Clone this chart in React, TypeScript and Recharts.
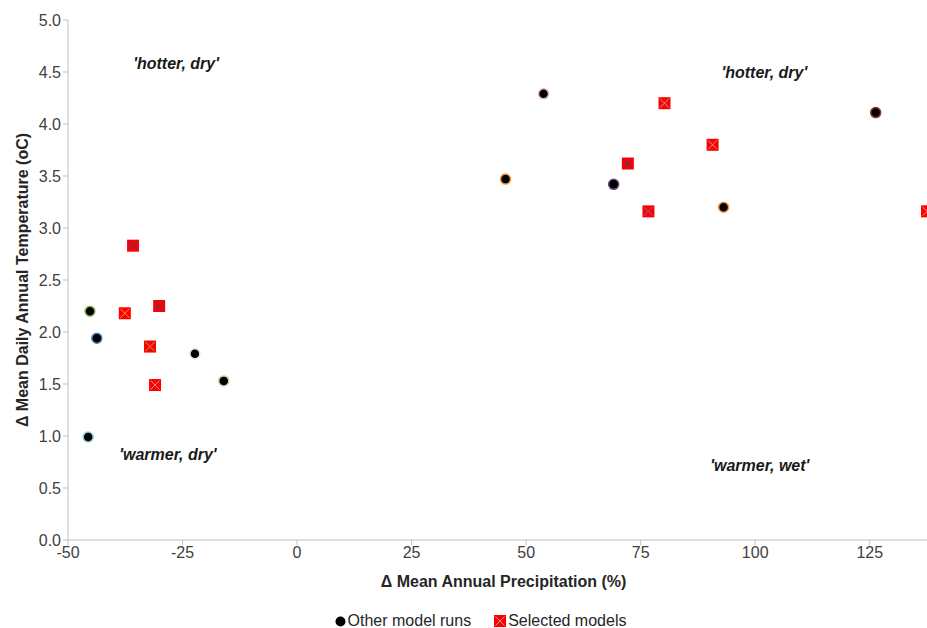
import React from 'react';
import {
  Legend,
  ReferenceDot,
  Scatter,
  ScatterChart,
  XAxis,
  YAxis,
} from 'recharts';

// change in precipitation (%) and temperature (oC) per model run
const otherPrecip = [-45.2, -43.7, -45.6, -22.3, -16.0, 53.8, 45.5, 69.1, 93.1, 126.3];
const otherTemp = [2.2, 1.94, 0.99, 1.79, 1.53, 4.29, 3.47, 3.42, 3.2, 4.11];

const selectedPrecip = [-35.8, -37.6, -30.1, -32.1, -31.0, 80.2, 90.7, 72.2, 76.7, 137.5];
const selectedTemp = [2.83, 2.18, 2.25, 1.86, 1.49, 4.2, 3.8, 3.62, 3.16, 3.16];

const xTicks = [-50, -25, 0, 25, 50, 75, 100, 125];
const yTicks = [0, 0.5, 1, 1.5, 2, 2.5, 3, 3.5, 4, 4.5, 5];

const quadrantLabels = [
  { x: -26.4, y: 4.58, text: "'hotter, dry'" },
  { x: 102, y: 4.5, text: "'hotter, dry'" },
  { x: -28.2, y: 0.82, text: "'warmer, dry'" },
  { x: 101, y: 0.72, text: "'warmer, wet'" },
];

// marker outline / cross colours (styling only)
const otherEdge = ['#9bbb59', '#4f81bd', '#93cddd', '#dbe5f1', '#c3d69b', '#e6b9b8', '#f79646', '#604a7b', '#f79646', '#953735'];
const selectedCross = ['#1f497d', '#f79646', '#1f497d', '#9bbb59', '#d99694', '#a6a6a6', '#d99694', '#1f497d', '#8064a2', '#d99694'];

const otherData = otherPrecip.map((x, i) => ({ x, y: otherTemp[i], i }));
const selectedData = selectedPrecip.map((x, i) => ({ x, y: selectedTemp[i], i }));

const FONT = '"Liberation Sans", Arial, sans-serif';
const AXIS = '#bfbfbf';

const CircleMarker = (props: any) => {
  const { cx, cy, payload } = props;
  return <circle cx={cx} cy={cy} r={5} fill="#000" stroke={otherEdge[payload.i]} strokeWidth={1.5} />;
};

const SquareMarker = (props: any) => {
  const { cx, cy, payload } = props;
  const h = 6;
  const c = selectedCross[payload.i];
  return (
    <g>
      <rect x={cx - h} y={cy - h} width={h * 2} height={h * 2} fill="#ff0000" />
      <line x1={cx - h + 1.5} y1={cy - h + 1.5} x2={cx + h - 1.5} y2={cy + h - 1.5} stroke={c} strokeWidth={1} />
      <line x1={cx - h + 1.5} y1={cy + h - 1.5} x2={cx + h - 1.5} y2={cy - h + 1.5} stroke={c} strokeWidth={1} />
    </g>
  );
};

const XTitle = ({ viewBox }: any) => (
  <text
    x={viewBox.x + viewBox.width / 2 + 6}
    y={viewBox.y + 47}
    textAnchor="middle"
    fontFamily={FONT}
    fontSize={16}
    fontWeight="bold"
    fill="#262626"
  >
    Δ  Mean Annual Precipitation (%)
  </text>
);

const YTitle = ({ viewBox }: any) => {
  const cx = 22;
  const cy = viewBox.y + viewBox.height / 2;
  return (
    <text
      x={cx}
      y={cy}
      transform={`rotate(-90 ${cx} ${cy})`}
      textAnchor="middle"
      dominantBaseline="central"
      fontFamily={FONT}
      fontSize={16}
      fontWeight="bold"
      fill="#262626"
    >
      Δ Mean Daily Annual Temperature (oC)
    </text>
  );
};

const LegendContent = () => (
  <div
    style={{
      display: 'flex',
      justifyContent: 'center',
      alignItems: 'center',
      gap: 23,
      fontFamily: FONT,
      fontSize: 16,
      lineHeight: '12px',
      color: '#262626',
      paddingLeft: 34,
      paddingTop: 9,
    }}
  >
    <span style={{ display: 'flex', alignItems: 'center', gap: 2 }}>
      <svg width={11} height={11}>
        <circle cx={5.5} cy={5.5} r={5} fill="#000" />
      </svg>
      Other model runs
    </span>
    <span style={{ display: 'flex', alignItems: 'center', gap: 2 }}>
      <svg width={12} height={12}>
        <rect x={0} y={0} width={12} height={12} fill="#ff0000" />
        <line x1={1.5} y1={1.5} x2={10.5} y2={10.5} stroke="#d99694" />
        <line x1={1.5} y1={10.5} x2={10.5} y2={1.5} stroke="#d99694" />
      </svg>
      Selected models
    </span>
  </div>
);

export default function App() {
  return (
    <div style={{ position: 'absolute', left: 0, top: 0, background: '#fff' }}>
      <ScatterChart width={927} height={628} margin={{ top: 20, right: 0, left: 0, bottom: 0 }}>
        <XAxis
          type="number"
          dataKey="x"
          domain={[-50, 137.5]}
          ticks={xTicks}
          allowDataOverflow
          height={66}
          stroke={AXIS}
          tickSize={5}
          tick={{ fill: '#404040', fontSize: 16, fontFamily: FONT }}
          label={<XTitle />}
        />
        <YAxis
          type="number"
          dataKey="y"
          domain={[0, 5]}
          ticks={yTicks}
          width={68}
          stroke={AXIS}
          tickSize={5}
          tickFormatter={(v: number) => v.toFixed(1)}
          tick={{ fill: '#404040', fontSize: 16, fontFamily: FONT }}
          label={<YTitle />}
        />
        <Legend verticalAlign="bottom" height={22} content={<LegendContent />} />
        {quadrantLabels.map((q) => (
          <ReferenceDot
            key={q.text + q.x}
            x={q.x}
            y={q.y}
            r={0}
            stroke="none"
            label={{
              value: q.text,
              position: 'center',
              fontFamily: FONT,
              fontSize: 16,
              fontWeight: 'bold',
              fontStyle: 'italic',
              fill: '#1a1a1a',
            }}
          />
        ))}
        <Scatter name="Other model runs" data={otherData} shape={<CircleMarker />} isAnimationActive={false} />
        <Scatter name="Selected models" data={selectedData} shape={<SquareMarker />} isAnimationActive={false} />
      </ScatterChart>
    </div>
  );
}
